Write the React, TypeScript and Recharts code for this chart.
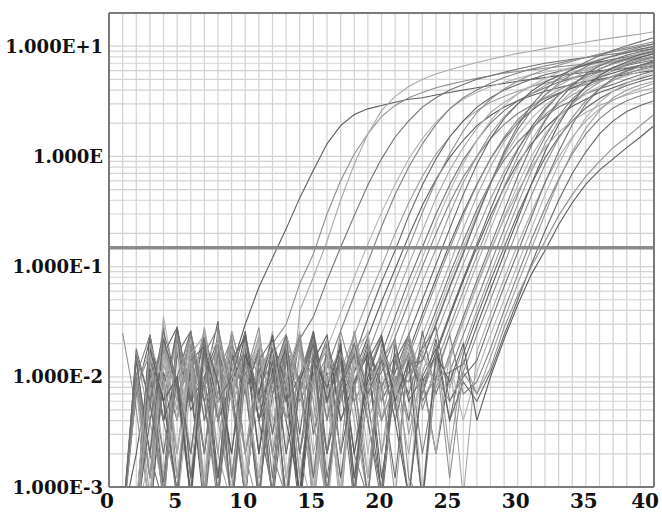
import React from "react";
import { LineChart, Line, XAxis, YAxis, CartesianGrid, ReferenceLine } from "recharts";

const cycles = [1,2,3,4,5,6,7,8,9,10,11,12,13,14,15,16,17,18,19,20,21,22,23,24,25,26,27,28,29,30,31,32,33,34,35,36,37,38,39,40];

const fluorescence: number[][] = [
  [0.0005,0.002,0.012,0.004,0.028,0.006,0.022,0.0012,0.012,0.03, 0.065,0.12,0.22,0.42,0.75,1.3,1.9,2.4,2.7,2.9, 3.1,3.3,3.4,3.6,3.8,4.0,4.2,4.4,4.6,4.8, 5.0,5.2,5.4,5.6,5.8,6.0,6.1,6.3,6.4,6.6],
  [0.025,0.005,0.0006,0.009,0.0008,0.014,0.002,0.028,0.007,0.0008, 0.011,0.02,0.03,0.07,0.13,0.3,0.6,1.05,1.6,2.3, 2.9,3.4,3.8,4.2,4.5,4.8,5.1,5.4,5.7,5.9, 6.1,6.3,6.5,6.7,6.9,7.1,7.3,7.5,7.7,7.9],
  [0.0004,0.011,0.0012,0.034,0.0007,0.008,0.026,0.005,0.0008,0.013, 0.006,0.024,0.002,0.04,0.08,0.17,0.4,0.85,1.6,2.6, 3.5,4.3,5.0,5.6,6.1,6.6,7.1,7.6,8.1,8.6, 9.0,9.5,10.0,10.4,10.9,11.4,11.9,12.4,12.9,13.5],
  [0.0005,0.0006,0.009,0.0008,0.026,0.007,0.0009,0.012,0.002,0.024, 0.006,0.011,0.004,0.022,0.035,0.075,0.15,0.29,0.55,0.95, 1.5,2.1,2.8,3.4,4.0,4.5,5.0,5.4,5.8,6.2, 6.6,7.0,7.3,7.6,7.9,8.2,8.5,8.8,9.1,9.5],
  [0.0004,0.0005,0.02,0.002,0.009,0.0008,0.022,0.006,0.011,0.0012, 0.022,0.007,0.0006,0.01,0.004,0.018,0.038,0.08,0.16,0.31, 0.56,0.95,1.45,2.05,2.7,3.3,3.8,4.3,4.7,5.1, 5.5,5.8,6.1,6.4,6.7,7.0,7.2,7.5,7.7,8.0],
  [0.0005,0.0006,0.0007,0.028,0.0012,0.012,0.006,0.0007,0.02,0.008, 0.0008,0.01,0.024,0.002,0.009,0.012,0.026,0.055,0.11,0.23, 0.45,0.8,1.3,1.95,2.7,3.4,4.0,4.6,5.2,5.7, 6.2,6.6,7.0,7.5,7.9,8.4,8.9,9.4,10.0,10.5],
  [0.0005,0.009,0.0008,0.013,0.005,0.025,0.0007,0.007,0.018,0.002, 0.0006,0.018,0.006,0.024,0.0012,0.008,0.011,0.024,0.05,0.1, 0.2,0.38,0.66,1.05,1.5,2.1,2.6,3.1,3.5,3.9, 4.3,4.6,4.9,5.2,5.5,5.8,6.1,6.4,6.7,7.0],
  [0.0004,0.0005,0.006,0.0008,0.022,0.005,0.009,0.032,0.0012,0.011, 0.0009,0.007,0.02,0.003,0.026,0.006,0.009,0.015,0.034,0.072, 0.14,0.29,0.55,0.95,1.5,2.1,2.8,3.4,4.0,4.5, 5.0,5.5,5.9,6.3,6.8,7.2,7.6,8.0,8.5,9.0],
  [0.0005,0.0005,0.011,0.0012,0.02,0.009,0.0006,0.018,0.007,0.024, 0.002,0.012,0.0008,0.009,0.022,0.0008,0.007,0.011,0.023,0.048, 0.095,0.19,0.36,0.62,0.98,1.4,1.9,2.35,2.8,3.2, 3.55,3.9,4.2,4.5,4.8,5.0,5.3,5.5,5.8,6.0],
  [0.0006,0.0005,0.0005,0.01,0.002,0.018,0.0009,0.026,0.006,0.01, 0.028,0.003,0.011,0.0008,0.02,0.008,0.0012,0.012,0.016,0.035, 0.074,0.15,0.31,0.6,1.05,1.7,2.5,3.3,4.1,4.8, 5.5,6.1,6.7,7.3,7.9,8.5,9.1,9.7,10.3,11.0],
  [0.0005,0.008,0.0006,0.016,0.005,0.009,0.022,0.002,0.0007,0.016, 0.007,0.026,0.0012,0.008,0.018,0.0006,0.01,0.006,0.011,0.024, 0.05,0.105,0.21,0.42,0.75,1.2,1.8,2.5,3.1,3.7, 4.3,4.8,5.3,5.8,6.3,6.8,7.2,7.6,8.0,8.5],
  [0.0004,0.0005,0.024,0.006,0.0009,0.011,0.002,0.02,0.008,0.0008, 0.012,0.003,0.024,0.009,0.0007,0.014,0.006,0.018,0.008,0.016, 0.035,0.075,0.15,0.3,0.55,0.93,1.4,2.0,2.6,3.2, 3.7,4.2,4.7,5.1,5.5,5.9,6.3,6.7,7.1,7.5],
  [0.0005,0.0005,0.002,0.035,0.007,0.012,0.0012,0.024,0.0006,0.009, 0.02,0.002,0.01,0.026,0.004,0.0008,0.016,0.007,0.005,0.013, 0.028,0.06,0.12,0.25,0.48,0.86,1.4,2.1,2.9,3.7, 4.4,5.1,5.8,6.4,7.0,7.6,8.2,8.7,9.3,9.8],
  [0.0005,0.016,0.0012,0.009,0.0007,0.02,0.006,0.011,0.022,0.002, 0.008,0.0009,0.018,0.006,0.011,0.002,0.022,0.0008,0.007,0.011, 0.023,0.048,0.1,0.2,0.38,0.65,1.0,1.45,1.95,2.45, 2.9,3.35,3.75,4.15,4.5,4.9,5.3,5.7,6.1,6.5],
  [0.0004,0.0005,0.008,0.0008,0.018,0.007,0.028,0.004,0.0008,0.016, 0.006,0.009,0.022,0.0012,0.01,0.006,0.0009,0.02,0.008,0.004, 0.015,0.034,0.073,0.145,0.3,0.58,1.0,1.6,2.3,3.0, 3.7,4.4,5.0,5.6,6.1,6.7,7.2,7.7,8.3,8.8],
  [0.0005,0.0006,0.0005,0.011,0.004,0.024,0.008,0.0012,0.016,0.007, 0.018,0.0007,0.009,0.024,0.003,0.011,0.0012,0.008,0.02,0.006, 0.011,0.024,0.05,0.105,0.22,0.45,0.85,1.45,2.2,3.0, 3.9,4.7,5.4,6.1,6.8,7.5,8.1,8.7,9.4,10.0],
  [0.0005,0.007,0.022,0.0009,0.01,0.002,0.018,0.009,0.0008,0.024, 0.004,0.016,0.007,0.0006,0.01,0.022,0.002,0.009,0.016,0.0012, 0.008,0.017,0.037,0.078,0.16,0.31,0.56,0.95,1.45,2.0, 2.6,3.2,3.7,4.2,4.7,5.2,5.7,6.2,6.7,7.2],
  [0.0004,0.0005,0.016,0.004,0.026,0.0012,0.009,0.02,0.006,0.0008, 0.014,0.007,0.02,0.002,0.009,0.0007,0.018,0.006,0.01,0.024, 0.005,0.015,0.033,0.07,0.145,0.29,0.55,0.95,1.5,2.15, 2.8,3.4,4.0,4.6,5.2,5.8,6.4,7.0,7.6,8.2],
  [0.0005,0.0005,0.0006,0.02,0.008,0.0012,0.028,0.006,0.014,0.0009, 0.016,0.002,0.024,0.008,0.0008,0.01,0.018,0.004,0.0008,0.009, 0.006,0.011,0.024,0.05,0.105,0.22,0.44,0.8,1.35,2.05, 2.8,3.6,4.4,5.1,5.9,6.6,7.3,7.9,8.6,9.2],
  [0.0005,0.01,0.002,0.0007,0.016,0.006,0.024,0.0008,0.009,0.018, 0.004,0.0009,0.014,0.007,0.02,0.0012,0.008,0.016,0.004,0.0007, 0.01,0.009,0.019,0.04,0.085,0.17,0.33,0.58,0.93,1.35, 1.8,2.3,2.8,3.2,3.7,4.1,4.5,5.0,5.5,6.0],
  [0.0004,0.0005,0.007,0.024,0.002,0.014,0.0008,0.02,0.007,0.021, 0.005,0.014,0.0012,0.009,0.022,0.006,0.0009,0.014,0.026,0.004, 0.008,0.004,0.016,0.035,0.075,0.15,0.3,0.57,1.0,1.55, 2.2,2.9,3.6,4.3,5.0,5.6,6.2,6.8,7.4,8.0],
  [0.0005,0.0005,0.018,0.004,0.009,0.02,0.002,0.016,0.0006,0.01, 0.022,0.007,0.016,0.0008,0.01,0.02,0.004,0.009,0.0008,0.018, 0.007,0.011,0.014,0.031,0.066,0.135,0.28,0.56,1.05,1.75, 2.6,3.6,4.6,5.6,6.5,7.4,8.2,9.0,9.8,10.5],
  [0.0005,0.009,0.0012,0.02,0.007,0.0008,0.016,0.004,0.026,0.008, 0.0012,0.016,0.007,0.024,0.0006,0.009,0.018,0.002,0.014,0.006, 0.022,0.003,0.011,0.024,0.05,0.105,0.21,0.41,0.73,1.18, 1.75,2.4,3.0,3.6,4.2,4.8,5.3,5.9,6.5,7.0],
  [0.0004,0.0005,0.004,0.016,0.028,0.006,0.01,0.0012,0.02,0.009, 0.0007,0.016,0.006,0.01,0.026,0.002,0.008,0.018,0.006,0.0009, 0.014,0.024,0.007,0.017,0.037,0.078,0.16,0.33,0.65,1.15, 1.85,2.7,3.6,4.5,5.4,6.2,7.0,7.7,8.4,9.0],
  [0.0005,0.0006,0.022,0.006,0.0009,0.014,0.019,0.004,0.009,0.018, 0.002,0.022,0.008,0.0008,0.014,0.006,0.02,0.0012,0.009,0.016, 0.004,0.0008,0.009,0.016,0.035,0.074,0.15,0.29,0.52,0.87, 1.3,1.8,2.35,2.85,3.3,3.8,4.2,4.65,5.1,5.5],
  [0.0005,0.011,0.002,0.009,0.02,0.0007,0.016,0.007,0.024,0.002, 0.01,0.018,0.0006,0.008,0.016,0.004,0.026,0.009,0.0012,0.016, 0.007,0.02,0.005,0.013,0.028,0.06,0.125,0.26,0.53,1.0, 1.7,2.6,3.6,4.5,5.4,6.2,6.9,7.5,8.0,8.5],
  [0.0004,0.0005,0.0008,0.018,0.004,0.024,0.008,0.016,0.0012,0.01, 0.022,0.004,0.009,0.02,0.0009,0.014,0.006,0.018,0.024,0.002, 0.008,0.016,0.006,0.011,0.024,0.05,0.105,0.22,0.44,0.82, 1.4,2.15,3.0,3.9,4.7,5.5,6.2,6.8,7.3,7.8],
  [0.0005,0.0005,0.01,0.002,0.016,0.026,0.006,0.0009,0.018,0.008, 0.016,0.0012,0.024,0.007,0.014,0.002,0.009,0.0007,0.02,0.008, 0.016,0.004,0.026,0.007,0.016,0.035,0.075,0.155,0.32,0.66, 1.25,2.1,3.2,4.4,5.6,6.6,7.5,8.3,8.9,9.5],
  [0.0005,0.008,0.018,0.0012,0.009,0.026,0.004,0.014,0.0008,0.02, 0.006,0.01,0.022,0.002,0.0006,0.016,0.008,0.02,0.0012,0.01, 0.006,0.018,0.0009,0.009,0.014,0.031,0.066,0.135,0.28,0.55, 1.0,1.6,2.3,3.0,3.7,4.3,4.9,5.4,5.9,6.3],
  [0.0004,0.0005,0.006,0.022,0.009,0.0008,0.016,0.028,0.007,0.014, 0.0008,0.018,0.004,0.01,0.024,0.006,0.014,0.002,0.0008,0.016, 0.008,0.022,0.006,0.01,0.011,0.024,0.05,0.105,0.22,0.45, 0.86,1.5,2.35,3.3,4.3,5.2,6.0,6.8,7.4,8.0],
  [0.0005,0.016,0.004,0.0009,0.02,0.008,0.014,0.002,0.026,0.009, 0.0012,0.014,0.007,0.02,0.004,0.0007,0.016,0.009,0.022,0.002, 0.014,0.007,0.0008,0.018,0.008,0.018,0.04,0.085,0.18,0.37, 0.73,1.3,2.1,3.0,3.9,4.7,5.4,6.0,6.5,7.0],
  [0.0005,0.0005,0.014,0.006,0.028,0.0012,0.01,0.022,0.0006,0.016, 0.007,0.018,0.002,0.009,0.024,0.006,0.014,0.0009,0.018,0.008, 0.0012,0.016,0.007,0.022,0.004,0.016,0.035,0.074,0.15,0.3, 0.56,0.97,1.5,2.1,2.75,3.35,3.9,4.4,4.8,5.2],
  [0.0004,0.0006,0.024,0.004,0.01,0.0008,0.018,0.006,0.014,0.023, 0.004,0.009,0.018,0.0007,0.014,0.024,0.004,0.009,0.016,0.0008, 0.02,0.006,0.01,0.002,0.011,0.013,0.029,0.062,0.13,0.27, 0.56,1.1,1.95,3.1,4.3,5.4,6.4,7.2,7.9,8.6],
  [0.0005,0.009,0.0012,0.018,0.008,0.024,0.0009,0.014,0.006,0.02, 0.01,0.002,0.0008,0.018,0.008,0.016,0.002,0.026,0.007,0.014, 0.022,0.0012,0.0007,0.01,0.006,0.011,0.024,0.05,0.105,0.22, 0.44,0.84,1.45,2.25,3.2,4.1,4.9,5.6,6.2,6.8],
  [0.0005,0.0005,0.007,0.016,0.002,0.022,0.009,0.0008,0.018,0.008, 0.024,0.006,0.01,0.018,0.002,0.009,0.0006,0.02,0.008,0.014, 0.006,0.024,0.009,0.002,0.016,0.0008,0.017,0.037,0.078,0.16, 0.31,0.58,0.98,1.5,2.1,2.7,3.25,3.7,4.15,4.6],
  [0.0004,0.018,0.006,0.0011,0.01,0.026,0.004,0.016,0.008,0.0008, 0.014,0.022,0.006,0.01,0.0012,0.02,0.008,0.016,0.004,0.0009, 0.014,0.007,0.018,0.028,0.006,0.01,0.014,0.031,0.066,0.135, 0.28,0.58,1.1,1.95,3.0,4.1,5.1,6.0,6.7,7.4],
  [0.0005,0.0007,0.016,0.007,0.02,0.002,0.014,0.021,0.006,0.01, 0.0012,0.016,0.024,0.007,0.014,0.0006,0.01,0.02,0.002,0.016, 0.008,0.0008,0.018,0.008,0.014,0.004,0.011,0.024,0.05,0.105, 0.22,0.45,0.85,1.45,2.25,3.1,3.9,4.6,5.2,5.8],
  [0.0005,0.01,0.024,0.004,0.0009,0.016,0.008,0.02,0.0012,0.014, 0.007,0.0008,0.018,0.009,0.022,0.004,0.014,0.006,0.0008,0.02, 0.009,0.016,0.002,0.01,0.024,0.007,0.009,0.018,0.04,0.085, 0.175,0.34,0.62,1.05,1.6,2.2,2.75,3.2,3.55,3.9],
  [0.0004,0.0005,0.009,0.02,0.006,0.014,0.0007,0.024,0.009,0.002, 0.016,0.008,0.022,0.0012,0.01,0.018,0.007,0.026,0.004,0.009, 0.0008,0.016,0.008,0.02,0.002,0.014,0.007,0.015,0.033,0.07, 0.145,0.3,0.6,1.1,1.8,2.6,3.4,4.0,4.45,4.8],
  [0.0005,0.014,0.002,0.022,0.008,0.0009,0.018,0.006,0.01,0.026, 0.004,0.014,0.0007,0.009,0.02,0.006,0.016,0.0012,0.014,0.024, 0.006,0.0008,0.01,0.018,0.004,0.009,0.006,0.011,0.024,0.05, 0.105,0.21,0.4,0.7,1.1,1.6,2.1,2.55,2.9,3.2],
  [0.0005,0.0005,0.018,0.006,0.01,0.0008,0.022,0.009,0.002,0.016, 0.007,0.024,0.004,0.0009,0.014,0.008,0.018,0.002,0.01,0.022, 0.006,0.014,0.0007,0.016,0.009,0.02,0.004,0.01,0.022,0.045, 0.085,0.14,0.24,0.38,0.56,0.75,0.95,1.2,1.5,1.9],
  [0.0004,0.008,0.016,0.0006,0.024,0.007,0.014,0.004,0.02,0.009, 0.018,0.002,0.009,0.022,0.006,0.0008,0.016,0.008,0.018,0.004, 0.009,0.024,0.007,0.016,0.0012,0.011,0.007,0.012,0.028,0.055, 0.1,0.17,0.29,0.45,0.66,0.9,1.2,1.5,1.9,2.4],
  [0.0005,0.0005,0.02,0.009,0.0012,0.016,0.024,0.006,0.014,0.0009, 0.01,0.02,0.004,0.016,0.008,0.022,0.0007,0.014,0.006,0.018, 0.009,0.002,0.016,0.008,0.015,0.032,0.068,0.14,0.27,0.48, 0.8,1.2,1.65,2.1,2.5,2.9,3.25,3.6,3.9,4.2],
  [0.0004,0.016,0.006,0.026,0.009,0.002,0.02,0.0008,0.014,0.022, 0.006,0.01,0.024,0.002,0.016,0.0009,0.009,0.02,0.007,0.014, 0.004,0.013,0.014,0.03,0.064,0.13,0.28,0.57,1.1,1.9, 2.9,4.0,5.1,6.2,7.2,8.2,9.2,10.1,11.0,12.0],
];

const curveShades = ["#5c5c5c", "#909090", "#a9a9a9", "#727272", "#b4b4b4", "#808080", "#9c9c9c", "#666666"];

const xLabelTicks = [0, 5, 10, 15, 20, 25, 30, 35, 40];
const xGridTicks = [0,1,2,3,4,5,6,7,8,9,10,11,12,13,14,15,16,17,18,19,20,21,22,23,24,25,26,27,28,29,30,31,32,33,34,35,36,37,38,39,40];
const yDecadeTicks = [0.001, 0.01, 0.1, 1, 10];
const yDecadeLabels = ["1.000E-3", "1.000E-2", "1.000E-1", "1.000E", "1.000E+1"];
const yMinorMultipliers = [1, 2, 3, 4, 5, 6, 7, 8, 9];
const yDomain: [number, number] = [0.001, 20];
const thresholdValue = 0.148;

const yGridTicks: number[] = [];
yDecadeTicks.slice(0, 4).forEach((d) => yMinorMultipliers.forEach((m) => yGridTicks.push(m * d)));
yGridTicks.push(10);

const data = cycles.map((c, i) => {
  const row: Record<string, number> = { cycle: c };
  fluorescence.forEach((curve, j) => {
    row["w" + j] = curve[i];
  });
  return row;
});

const FONT = "'DejaVu Serif', 'Liberation Serif', serif";

const renderYTick = (props: any) => {
  const { x, y, payload } = props;
  const v = payload.value;
  const idx = yDecadeTicks.findIndex((d) => Math.abs(v / d - 1) < 1e-6);
  if (idx < 0) return <g />;
  return (
    <text x={x} y={y} dy={6.5} textAnchor="end" fontFamily={FONT} fontWeight="bold" fontSize={18} fill="#111">
      {yDecadeLabels[idx]}
    </text>
  );
};

const renderXTick = (props: any) => {
  const { x, y, payload } = props;
  const v = payload.value;
  if (!xLabelTicks.includes(v)) return <g />;
  const isLast = v === 40;
  return (
    <text x={isLast ? x + 5 : x - 2} y={y} dy={19} textAnchor={isLast ? "end" : "middle"} fontFamily={FONT} fontWeight="bold" fontSize={20} fill="#111">
      {String(v)}
    </text>
  );
};

export default function App() {
  return (
    <div style={{ position: "absolute", left: 0, top: 0, width: 662, height: 512, background: "#fff" }}>
      <LineChart width={662} height={512} data={data} margin={{ top: 13, right: 8, bottom: 0, left: 0 }}>
        <CartesianGrid stroke="#d3d3d3" strokeWidth={1.2} />
        <XAxis
          type="number"
          dataKey="cycle"
          domain={[0, 40]}
          ticks={xGridTicks}
          interval={0}
          allowDataOverflow
          tick={renderXTick}
          tickLine={false}
          tickSize={0}
          axisLine={{ stroke: "#7a7a7a", strokeWidth: 2 }}
          height={25}
        />
        <YAxis
          type="number"
          scale="log"
          domain={yDomain}
          ticks={yGridTicks}
          interval={0}
          allowDataOverflow
          tick={renderYTick}
          tickLine={false}
          tickSize={0}
          tickMargin={6}
          axisLine={{ stroke: "#7a7a7a", strokeWidth: 2 }}
          width={109}
        />
        {fluorescence.map((_, j) => (
          <Line
            key={j}
            type="linear"
            dataKey={"w" + j}
            stroke={curveShades[j % curveShades.length]}
            strokeWidth={1.1}
            dot={false}
            activeDot={false}
            isAnimationActive={false}
          />
        ))}
        <ReferenceLine y={thresholdValue} stroke="#8c8c8c" strokeWidth={3.5} />
        <ReferenceLine y={20} stroke="#7a7a7a" strokeWidth={2} />
        <ReferenceLine x={40} stroke="#7a7a7a" strokeWidth={2} />
      </LineChart>
    </div>
  );
}
